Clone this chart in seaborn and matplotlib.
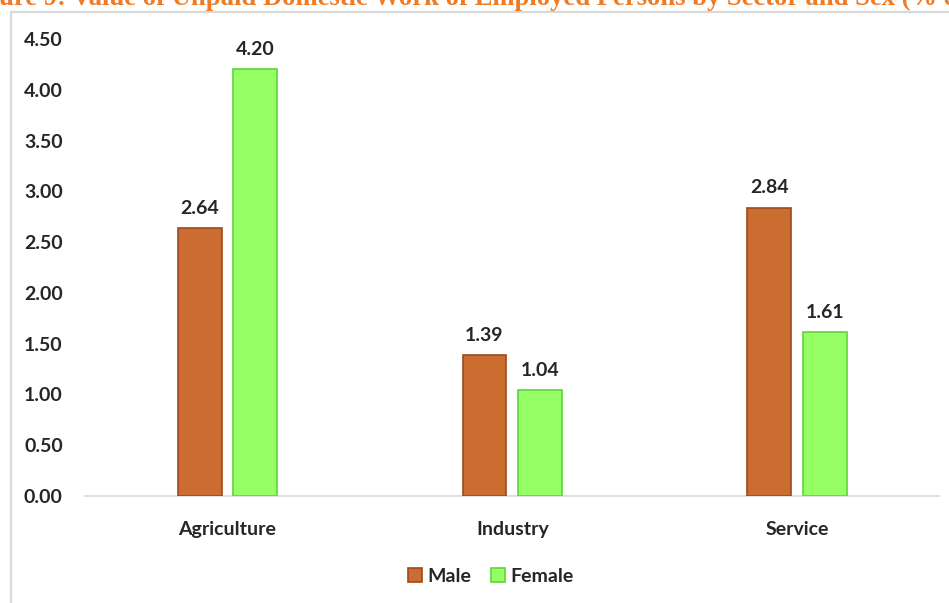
import matplotlib
matplotlib.use("Agg")
import matplotlib.pyplot as plt
from matplotlib.patches import Rectangle, Patch
import seaborn as sns
import pandas as pd

# Unpaid domestic work of employed persons, by sector and sex
sectors = ["Agriculture", "Industry", "Service"]
male_values = [2.64, 1.39, 2.84]
female_values = [4.20, 1.04, 1.61]
sexes = ["Male", "Female"]
y_ticks = [0.0, 0.5, 1.0, 1.5, 2.0, 2.5, 3.0, 3.5, 4.0, 4.5]
title_text = "Figure 9: Value of Unpaid Domestic Work of Employed Persons by Sector and Sex (% of GDP)"

fill_colors = {"Male": "#CB6C31", "Female": "#95FF63"}
edge_colors = {"Male": "#9C4A1C", "Female": "#5CD63C"}

df = pd.DataFrame({
    "Sector": sectors * 2,
    "Sex": ["Male"] * len(sectors) + ["Female"] * len(sectors),
    "Value": male_values + female_values,
})

sns.set_theme(style="white")
plt.rcParams["font.family"] = ["Lato", "DejaVu Sans"]

fig = plt.figure(figsize=(9.49, 6.03), dpi=100)
W, H = 949, 603
FS = 14
TXT = "#262626"

# light grey chart frame, running off the right and bottom edges
fig.patches.append(Rectangle((11 / W, -0.05), 1.1, 1 - 12 / H + 0.05,
                             transform=fig.transFigure, fill=False,
                             edgecolor="#D9D9D9", linewidth=1.6, zorder=0))

# figure caption, partly outside the canvas
fig.text(-38 / W, 1 - 5 / H, title_text, ha="left", va="baseline",
         fontsize=19.15, fontweight="bold", color="#F07B25",
         family=["Liberation Serif", "DejaVu Serif"])

ax = fig.add_axes([85 / W, 107 / H, (939.5 - 85) / W, (496 - 39) / H])

sns.barplot(data=df, x="Sector", y="Value", hue="Sex", order=sectors,
            hue_order=sexes, palette=fill_colors, saturation=1,
            width=0.39, gap=0.21, ax=ax, legend=False, errorbar=None, zorder=3)

for container, sex in zip(ax.containers, sexes):
    for bar in container:
        bar.set_edgecolor(edge_colors[sex])
        bar.set_linewidth(1.2)
    ax.bar_label(container, labels=[f"{v:.2f}" for v in container.datavalues],
                 padding=8, fontsize=FS, fontweight="bold", color=TXT)

ax.set_ylim(0, 4.5)
ax.set_yticks(y_ticks)
ax.set_yticklabels([f"{t:.2f}" for t in y_ticks])
ax.set_xlim(-0.5, 2.5)
ax.set_xlabel("")
ax.set_ylabel("")
for side in ["top", "right", "left"]:
    ax.spines[side].set_visible(False)
ax.spines["bottom"].set_color("#D9D9D9")
ax.spines["bottom"].set_linewidth(1.2)
ax.tick_params(axis="y", length=0, pad=16, labelsize=FS, labelcolor=TXT)
ax.tick_params(axis="x", length=0, pad=18, labelsize=FS, labelcolor=TXT)
for lab in ax.get_yticklabels() + ax.get_xticklabels():
    lab.set_fontweight("bold")

handles = [Patch(facecolor=fill_colors[s], edgecolor=edge_colors[s], linewidth=1.2)
           for s in sexes]
fig.legend(handles, sexes, loc="center", bbox_to_anchor=(491 / W, 1 - 576 / H),
           ncol=2, frameon=False, handlelength=0.7, handleheight=0.7,
           handletextpad=0.3, columnspacing=1.0,
           prop={"family": ["Lato", "DejaVu Sans"], "weight": "bold", "size": FS})

fig.savefig("out.png", dpi=100)
